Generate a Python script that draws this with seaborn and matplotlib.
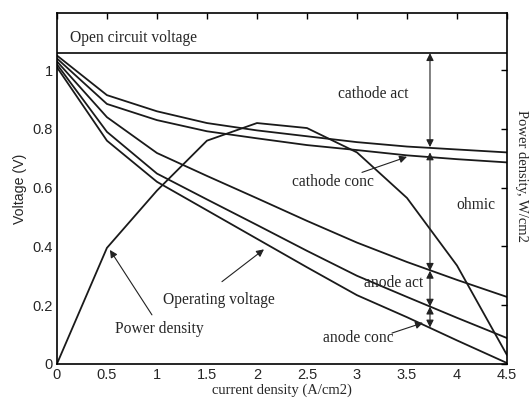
import numpy as np
import pandas as pd
import matplotlib
matplotlib.use("Agg")
import matplotlib.pyplot as plt
import seaborn as sns

sns.set_style("white")
plt.rcParams['font.family'] = ['Liberation Serif', 'DejaVu Serif']

# current density (A/cm2)
current = [0, 0.5, 1.0, 1.5, 2.0, 2.5, 3.0, 3.5, 4.0, 4.5]

# voltage curves after each loss (V)
cathode_act = [1.05, 0.915, 0.86, 0.82, 0.795, 0.775, 0.755, 0.74, 0.73, 0.72]
cathode_conc = [1.04, 0.885, 0.83, 0.792, 0.768, 0.745, 0.728, 0.71, 0.697, 0.686]
ohmic = [1.03, 0.84, 0.718, 0.64, 0.564, 0.487, 0.413, 0.347, 0.286, 0.228]
anode_act = [1.02, 0.79, 0.648, 0.56, 0.473, 0.385, 0.30, 0.228, 0.157, 0.088]
operating = [1.01, 0.76, 0.62, 0.523, 0.426, 0.329, 0.234, 0.159, 0.08, 0.003]

# power density (drawn on the same scale)
power = [0, 0.395, 0.59, 0.76, 0.82, 0.803, 0.72, 0.565, 0.335, 0.03]

ocv = 1.058
yticks = [0, 0.2, 0.4, 0.6, 0.8, 1]
xticks = [0, 0.5, 1, 1.5, 2, 2.5, 3, 3.5, 4, 4.5]

df = pd.DataFrame({
    'current': current * 6,
    'value': cathode_act + cathode_conc + ohmic + anode_act + operating + power,
    'curve': sum([[n] * len(current) for n in
                  ['cathode_act', 'cathode_conc', 'ohmic', 'anode_act', 'operating', 'power']], []),
})

fig = plt.figure(figsize=(5.32, 4.03), dpi=100)
ax = fig.add_axes([0.107, 0.097, 0.846, 0.871])

sns.lineplot(data=df, x='current', y='value', hue='curve', units='curve', estimator=None,
             palette=['#1a1a1a'] * 6, linewidth=1.3, legend=False, ax=ax)
ax.axhline(ocv, color='#1a1a1a', lw=1.3)

ax.set_xlim(0, 4.5)
ax.set_ylim(0, 1.195)
ax.set_xticks(xticks)
ax.set_yticks(yticks)
ax.set_xticklabels([f"{t:g}" for t in xticks], family='Liberation Sans', fontsize=10.5)
ax.set_yticklabels([f"{t:g}" for t in yticks], family='Liberation Sans', fontsize=10.5)
ax.tick_params(direction='in', top=True, right=True, length=4, width=1, color='k', pad=3)
for s in ax.spines.values():
    s.set_color('k')
    s.set_linewidth(1.2)

ax.set_xlabel("current density (A/cm2)", fontsize=10.5, labelpad=1)
ax.set_ylabel("Voltage (V)", family='Liberation Sans', fontsize=10.2, labelpad=4)
ax.text(1.018, 0.535, "Power density, W/cm2", transform=ax.transAxes, rotation=-90,
        fontsize=10.5, va='center', ha='left')

fs = 11.2
ax.text(0.13, 1.11, "Open circuit voltage", fontsize=fs, va='center')
ax.text(3.16, 0.92, "cathode act", fontsize=fs, ha='center', va='center')
ax.text(2.76, 0.62, "cathode conc", fontsize=fs, ha='center', va='center')
ax.text(4.19, 0.54, "ohmic", fontsize=fs, ha='center', va='center')
ax.text(3.37, 0.276, "anode act", fontsize=fs, ha='center', va='center')
ax.text(3.01, 0.088, "anode conc", fontsize=fs, ha='center', va='center')
ax.text(1.62, 0.218, "Operating voltage", fontsize=fs, ha='center', va='center')
ax.text(1.02, 0.12, "Power density", fontsize=fs, ha='center', va='center')

# loss arrows at i = 3.73
xa = 3.73
dbl = dict(arrowstyle='<|-|>', color='#222222', lw=0.8, shrinkA=0, shrinkB=0,
           mutation_scale=11)
for top, bottom in [(ocv, 0.738), (0.72, 0.317), (0.317, 0.195), (0.195, 0.124)]:
    ax.annotate("", xy=(xa, top), xytext=(xa, bottom), arrowprops=dbl)

one = dict(arrowstyle='-|>', color='#222222', lw=0.8, shrinkA=0, shrinkB=0, mutation_scale=11)
ax.annotate("", xy=(3.5, 0.705), xytext=(3.05, 0.652), arrowprops=one)
ax.annotate("", xy=(3.66, 0.14), xytext=(3.35, 0.105), arrowprops=one)
ax.annotate("", xy=(2.07, 0.39), xytext=(1.65, 0.28), arrowprops=one)
ax.annotate("", xy=(0.53, 0.388), xytext=(0.95, 0.167), arrowprops=one)

fig.savefig("out.png", dpi=100)
